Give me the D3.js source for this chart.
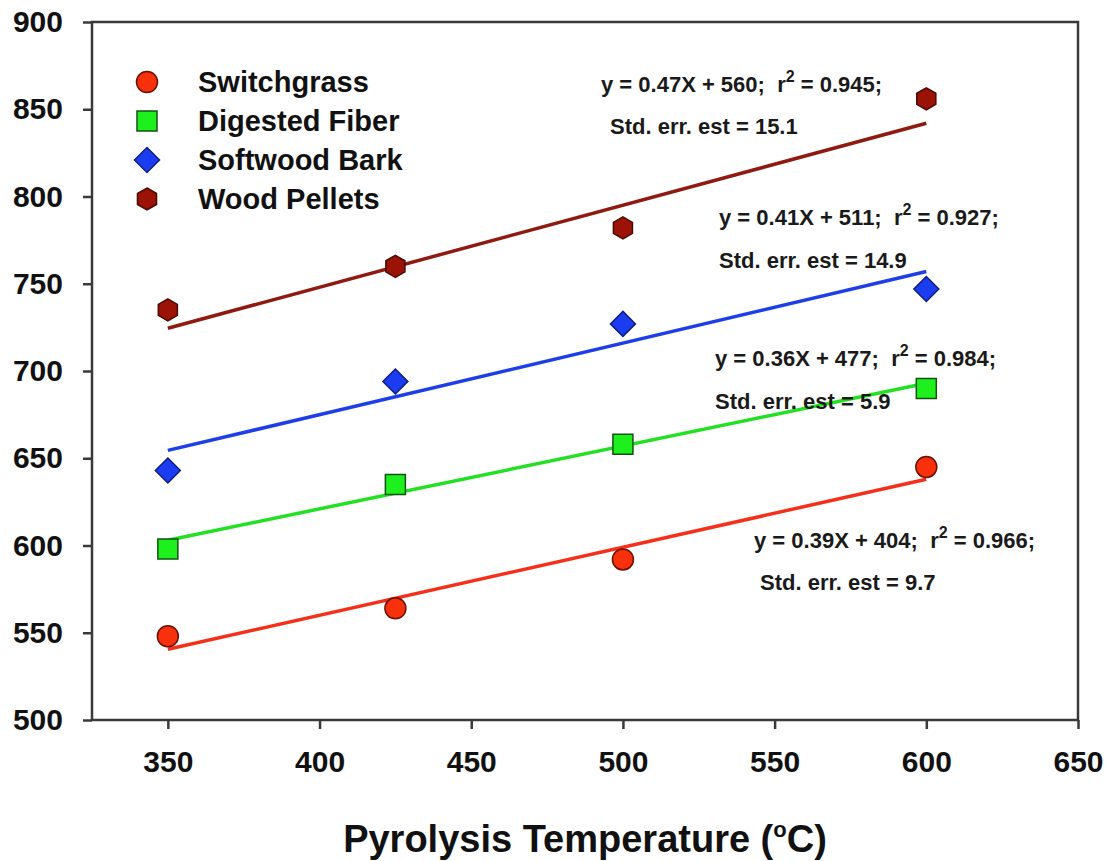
<!DOCTYPE html>
<html>
<head>
<meta charset="utf-8">
<script src="https://cdn.jsdelivr.net/npm/d3@7"></script>
<style>
  body { margin: 0; background: #fff; }
  svg { display: block; font-family: "Liberation Sans", Arial, Helvetica, sans-serif; font-weight: bold; }
  .note { white-space: pre; }
</style>
</head>
<body>
<svg id="chart" width="1109" height="861"></svg>
<script>
// Pyrolysis temperature (°C) at which each feedstock was treated
const temperatures = [350, 425, 500, 600];

// Measured values per feedstock
const switchgrass   = [548, 564, 592, 645];
const digestedFiber = [598, 635, 658, 690];
const softwoodBark  = [643, 694, 727, 747];
const woodPellets   = [735, 760, 782, 856];

const seriesNames = ["Switchgrass", "Digested Fiber", "Softwood Bark", "Wood Pellets"];

// Linear regression results for each feedstock (same order as seriesNames)
const fitSlopes     = [0.39, 0.36, 0.41, 0.47];
const fitIntercepts = [404, 477, 511, 560];
const fitR2         = ["0.966", "0.984", "0.927", "0.945"];
const fitStdErr     = ["9.7", "5.9", "14.9", "15.1"];

// Axis ticks
const xTicks = [350, 400, 450, 500, 550, 600, 650];
const yTicks = [500, 550, 600, 650, 700, 750, 800, 850, 900];

// ---- layout & styling ----
const width = 1109, height = 861;
const margin = { top: 22, right: 31, bottom: 141, left: 92 };

const styles = [
  { shape: "circle",  fill: "#f8300c", stroke: "#6a1005", line: "#f5301a" },
  { shape: "square",  fill: "#1ef01e", stroke: "#145014", line: "#22e022" },
  { shape: "diamond", fill: "#1c3cf2", stroke: "#10207a", line: "#1e3ee6" },
  { shape: "hexagon", fill: "#9a1306", stroke: "#4a0a04", line: "#8e1a10" }
];

// Placement of the regression annotations (pixel offsets in the chart)
const notePos = [
  { x1: 754, y1: 548, x2: 760, y2: 590 },
  { x1: 715, y1: 366, x2: 715, y2: 409 },
  { x1: 719, y1: 225, x2: 719, y2: 268 },
  { x1: 601, y1: 92,  x2: 610, y2: 134 }
];

const seriesValues = [switchgrass, digestedFiber, softwoodBark, woodPellets];

const svg = d3.select("#chart");

const x = d3.scaleLinear().domain([325, 650]).range([margin.left, width - margin.right]);
const y = d3.scaleLinear().domain([500, 900]).range([height - margin.bottom, margin.top]);

function markerPath(shape) {
  const p = d3.path();
  if (shape === "circle") {
    const r = 10.5;
    p.moveTo(r, 0); p.arc(0, 0, r, 0, 2 * Math.PI);
  } else if (shape === "square") {
    const h = 10;
    p.rect(-h, -h, 2 * h, 2 * h);
  } else if (shape === "diamond") {
    const h = 12.5;
    p.moveTo(0, -h); p.lineTo(h, 0); p.lineTo(0, h); p.lineTo(-h, 0); p.closePath();
  } else {
    const r = 11;
    for (let i = 0; i < 6; i++) {
      const a = -Math.PI / 2 + i * Math.PI / 3;
      const px = r * Math.cos(a), py = r * Math.sin(a);
      if (i === 0) p.moveTo(px, py); else p.lineTo(px, py);
    }
    p.closePath();
  }
  return p.toString();
}

// Axes
const axisColor = "#3a3a3a";
const yAxis = svg.append("g")
  .attr("transform", `translate(${margin.left},0)`)
  .call(d3.axisLeft(y).tickValues(yTicks).tickSize(9).tickPadding(20).tickFormat(d3.format("d")));
const xAxis = svg.append("g")
  .attr("transform", `translate(0,${height - margin.bottom})`)
  .call(d3.axisBottom(x).tickValues(xTicks).tickSize(9).tickPadding(22).tickFormat(d3.format("d")));

[yAxis, xAxis].forEach(g => {
  g.select(".domain").remove();
  g.selectAll(".tick line").attr("stroke", axisColor).attr("stroke-width", 2.5);
  g.selectAll(".tick text")
    .attr("fill", "#111")
    .style("font-family", '"Liberation Sans", Arial, sans-serif')
    .style("font-weight", "bold")
    .style("font-size", "30px");
});

// Plot frame
svg.append("rect")
  .attr("x", x(325)).attr("y", y(900))
  .attr("width", x(650) - x(325)).attr("height", y(500) - y(900))
  .attr("fill", "none").attr("stroke", axisColor).attr("stroke-width", 2.5);

// Regression lines
seriesValues.forEach((vals, i) => {
  const x0 = d3.min(temperatures), x1 = d3.max(temperatures);
  svg.append("line")
    .attr("x1", x(x0)).attr("y1", y(fitSlopes[i] * x0 + fitIntercepts[i]))
    .attr("x2", x(x1)).attr("y2", y(fitSlopes[i] * x1 + fitIntercepts[i]))
    .attr("stroke", styles[i].line).attr("stroke-width", 3.5);
});

// Data points
seriesValues.forEach((vals, i) => {
  svg.append("g").selectAll("path")
    .data(vals.map((v, j) => ({ t: temperatures[j], v })))
    .join("path")
    .attr("transform", d => `translate(${x(d.t)},${y(d.v)})`)
    .attr("d", markerPath(styles[i].shape))
    .attr("fill", styles[i].fill)
    .attr("stroke", styles[i].stroke)
    .attr("stroke-width", 1.5);
});

// Regression annotations
seriesValues.forEach((vals, i) => {
  const pos = notePos[i];
  const t = svg.append("text")
    .attr("class", "note")
    .attr("x", pos.x1).attr("y", pos.y1)
    .attr("fill", "#1a1a1a").style("font-size", "22px");
  t.append("tspan").text(`y = ${fitSlopes[i].toFixed(2)}X + ${fitIntercepts[i]};  r`);
  t.append("tspan").attr("dy", -10).style("font-size", "16px").text("2");
  t.append("tspan").attr("dy", 10).text(` = ${fitR2[i]};`);
  svg.append("text")
    .attr("class", "note")
    .attr("x", pos.x2).attr("y", pos.y2)
    .attr("fill", "#1a1a1a").style("font-size", "22px")
    .text(`Std. err. est = ${fitStdErr[i]}`);
});

// Legend
const legend = svg.append("g");
seriesNames.forEach((name, i) => {
  const cy = 82 + i * 39;
  legend.append("path")
    .attr("transform", `translate(147,${cy})`)
    .attr("d", markerPath(styles[i].shape))
    .attr("fill", styles[i].fill)
    .attr("stroke", styles[i].stroke)
    .attr("stroke-width", 1.5);
  legend.append("text")
    .attr("x", 198).attr("y", cy + 10)
    .attr("fill", "#111").style("font-size", "29px")
    .text(name);
});

// X axis title
const title = svg.append("text")
  .attr("x", (x(325) + x(650)) / 2).attr("y", 852)
  .attr("text-anchor", "middle")
  .attr("fill", "#111").style("font-size", "38px");
title.append("tspan").text("Pyrolysis Temperature (");
title.append("tspan").attr("dy", -15).style("font-size", "22px").text("o");
title.append("tspan").attr("dy", 15).text("C)");
</script>
</body>
</html>
